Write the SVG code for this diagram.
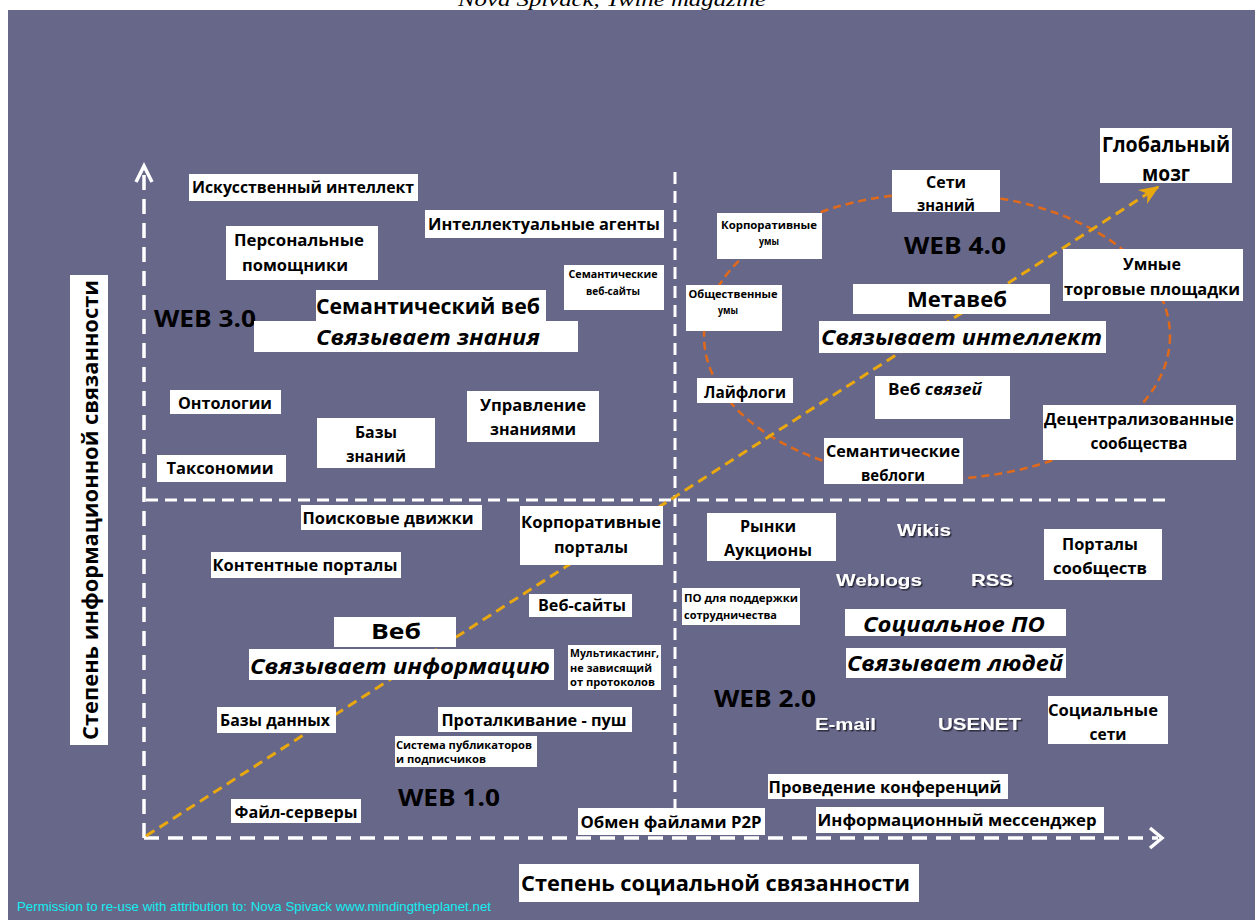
<svg xmlns="http://www.w3.org/2000/svg" width="1255" height="920" viewBox="0 0 1255 920">
<defs>
<style>
.bg{fill:#67678a}
.box{fill:#ffffff}
.t{font-family:"Open Sans","Noto Sans","DejaVu Sans",sans-serif;font-weight:bold;font-size:15.5px;fill:#000}
.s{font-size:10.5px}
.l{font-size:21px}
.h{font-size:23px}
.i{font-style:italic}
.m{text-anchor:middle}
.w{font-family:"Liberation Sans",Arial,sans-serif;font-weight:bold;font-size:17px;fill:#ffffff;filter:url(#sh)}
.axis{fill:none;stroke:#ffffff;stroke-width:3.5;stroke-dasharray:15 9}
.quad{fill:none;stroke:#ffffff;stroke-width:3;stroke-dasharray:12 7}
.head{fill:none;stroke:#ffffff;stroke-width:3.5}
.ell{fill:none;stroke:#e06a1a;stroke-width:2.5;stroke-dasharray:8 5}
.diag{fill:none;stroke:#e9a80f;stroke-width:3;stroke-dasharray:10 6}
</style>
<filter id="sh" x="-10%" y="-20%" width="130%" height="150%">
<feDropShadow dx="1.5" dy="1.5" stdDeviation="0.7" flood-color="#222233" flood-opacity="0.9"/>
</filter>
<marker id="ya" viewBox="0 0 12 10" refX="11" refY="5" markerWidth="20" markerHeight="17" markerUnits="userSpaceOnUse" orient="auto">
<path d="M0,0 L12,5 L0,10 L3.5,5 z" fill="#e9a80f"/>
</marker>
</defs>

<text x="612" y="6" text-anchor="middle" font-family="Liberation Serif,serif" font-style="italic" font-size="18" fill="#000" textLength="308" lengthAdjust="spacingAndGlyphs">Nova Spivack, Twine magazine</text>
<rect class="bg" x="8" y="10" width="1247" height="910"/>

<g id="connectors">
<ellipse class="ell" cx="937" cy="336" rx="233" ry="143"/>
<line class="quad" x1="675" y1="172" x2="675" y2="836"/>
<line class="quad" x1="146" y1="500" x2="1170" y2="500"/>
<line class="axis" x1="144" y1="838" x2="144" y2="168"/>
<polyline class="head" points="136,182 144,166 152,182"/>
<line class="axis" x1="144" y1="838" x2="1158" y2="838"/>
<polyline class="head" points="1150,828 1162,838 1150,848"/>
<line class="diag" x1="146" y1="836" x2="1158" y2="187" marker-end="url(#ya)"/>
</g>

<g id="n-ai"><rect class="box" x="189" y="174" width="229" height="27"/><text class="t m" x="303" y="193" textLength="222" lengthAdjust="spacingAndGlyphs">Искусственный интеллект</text></g>
<g id="n-pa"><rect class="box" x="226" y="226" width="152" height="54"/><text class="t m" x="299" y="246" textLength="130" lengthAdjust="spacingAndGlyphs">Персональные</text><text class="t m" x="295" y="271" textLength="106" lengthAdjust="spacingAndGlyphs">помощники</text></g>
<g id="n-agents"><rect class="box" x="425" y="210" width="239" height="28"/><text class="t m" x="544" y="230" textLength="232" lengthAdjust="spacingAndGlyphs">Интеллектуальные агенты</text></g>
<g id="n-semsites"><rect class="box" x="564" y="265" width="100" height="45"/><text class="t s m" x="613" y="278" textLength="89" lengthAdjust="spacingAndGlyphs">Семантические</text><text class="t s m" x="613" y="295" textLength="54" lengthAdjust="spacingAndGlyphs">веб-сайты</text></g>
<g id="n-web3"><text class="t h" x="154" y="327" textLength="102" lengthAdjust="spacingAndGlyphs">WEB 3.0</text></g>
<g id="n-semweb"><rect class="box" x="316" y="290" width="230" height="31"/><rect class="box" x="254" y="321" width="324" height="31"/><text class="t l" x="316" y="314" textLength="224" lengthAdjust="spacingAndGlyphs">Семантический веб</text><text class="t l i" x="316" y="345" textLength="224" lengthAdjust="spacingAndGlyphs">Связывает знания</text></g>
<g id="n-onto"><rect class="box" x="170" y="390" width="111" height="24"/><text class="t m" x="225" y="409" textLength="94" lengthAdjust="spacingAndGlyphs">Онтологии</text></g>
<g id="n-tax"><rect class="box" x="157" y="455" width="129" height="27"/><text class="t m" x="220" y="474" textLength="107" lengthAdjust="spacingAndGlyphs">Таксономии</text></g>
<g id="n-kb"><rect class="box" x="317" y="418" width="118" height="50"/><text class="t m" x="376" y="438" textLength="42" lengthAdjust="spacingAndGlyphs">Базы</text><text class="t m" x="376" y="462" textLength="60" lengthAdjust="spacingAndGlyphs">знаний</text></g>
<g id="n-km"><rect class="box" x="467" y="391" width="132" height="51"/><text class="t m" x="533" y="411" textLength="106" lengthAdjust="spacingAndGlyphs">Управление</text><text class="t m" x="533" y="435" textLength="86" lengthAdjust="spacingAndGlyphs">знаниями</text></g>

<g id="n-brain"><rect class="box" x="1100" y="128" width="132" height="55"/><text class="t l m" x="1166" y="152" textLength="128" lengthAdjust="spacingAndGlyphs">Глобальный</text><text class="t l m" x="1166" y="181" textLength="48" lengthAdjust="spacingAndGlyphs">мозг</text></g>
<g id="n-knet"><rect class="box" x="892" y="170" width="108" height="42"/><text class="t m" x="946" y="188" textLength="40" lengthAdjust="spacingAndGlyphs">Сети</text><text class="t m" x="946" y="211" textLength="58" lengthAdjust="spacingAndGlyphs">знаний</text></g>
<g id="n-corpminds"><rect class="box" x="717" y="213" width="105" height="46"/><text class="t s m" x="769" y="229" textLength="96" lengthAdjust="spacingAndGlyphs">Корпоративные</text><text class="t s m" x="769" y="245" textLength="20" lengthAdjust="spacingAndGlyphs">умы</text></g>
<g id="n-web4"><text class="t h m" x="955" y="254" textLength="102" lengthAdjust="spacingAndGlyphs">WEB 4.0</text></g>
<g id="n-pubminds"><rect class="box" x="686" y="285" width="96" height="46"/><text class="t s m" x="733" y="298" textLength="89" lengthAdjust="spacingAndGlyphs">Общественные</text><text class="t s m" x="728" y="314" textLength="20" lengthAdjust="spacingAndGlyphs">умы</text></g>
<g id="n-metaweb"><rect class="box" x="853" y="284" width="197" height="30"/><rect class="box" x="819" y="321" width="287" height="32"/><text class="t l m" x="957" y="307" textLength="100" lengthAdjust="spacingAndGlyphs">Метавеб</text><text class="t l i" x="821" y="345" textLength="281" lengthAdjust="spacingAndGlyphs">Связывает интеллект</text></g>
<g id="n-smart"><rect class="box" x="1063" y="249" width="180" height="52"/><text class="t m" x="1152" y="270" textLength="58" lengthAdjust="spacingAndGlyphs">Умные</text><text class="t m" x="1152" y="295" textLength="176" lengthAdjust="spacingAndGlyphs">торговые площадки</text></g>
<g id="n-lifelogs"><rect class="box" x="697" y="378" width="96" height="25"/><text class="t m" x="745" y="398" textLength="82" lengthAdjust="spacingAndGlyphs">Лайфлоги</text></g>
<g id="n-webrel"><rect class="box" x="875" y="376" width="135" height="43"/><text class="t" x="888" y="395" textLength="94" lengthAdjust="spacingAndGlyphs">Веб <tspan class="i">связей</tspan></text></g>
<g id="n-decentr"><rect class="box" x="1043" y="405" width="193" height="55"/><text class="t m" x="1139" y="425" textLength="190" lengthAdjust="spacingAndGlyphs">Децентрализованные</text><text class="t m" x="1139" y="449" textLength="97" lengthAdjust="spacingAndGlyphs">сообщества</text></g>
<g id="n-semblogs"><rect class="box" x="824" y="438" width="139" height="46"/><text class="t m" x="893" y="457" textLength="134" lengthAdjust="spacingAndGlyphs">Семантические</text><text class="t m" x="893" y="481" textLength="64" lengthAdjust="spacingAndGlyphs">веблоги</text></g>

<g id="n-search"><rect class="box" x="301" y="505" width="181" height="25"/><text class="t m" x="388" y="524" textLength="171" lengthAdjust="spacingAndGlyphs">Поисковые движки</text></g>
<g id="n-corpportals"><rect class="box" x="520" y="506" width="143" height="59"/><text class="t m" x="591" y="528" textLength="140" lengthAdjust="spacingAndGlyphs">Корпоративные</text><text class="t m" x="591" y="553" textLength="74" lengthAdjust="spacingAndGlyphs">порталы</text></g>
<g id="n-content"><rect class="box" x="211" y="552" width="190" height="26"/><text class="t m" x="305" y="571" textLength="185" lengthAdjust="spacingAndGlyphs">Контентные порталы</text></g>
<g id="n-websites"><rect class="box" x="529" y="594" width="103" height="23"/><text class="t m" x="582" y="611" textLength="88" lengthAdjust="spacingAndGlyphs">Веб-сайты</text></g>
<g id="n-web"><rect class="box" x="334" y="617" width="122" height="30"/><rect class="box" x="249" y="649" width="305" height="31"/><text class="t l m" x="396" y="639" textLength="50" lengthAdjust="spacingAndGlyphs">Веб</text><text class="t l i" x="250" y="674" textLength="300" lengthAdjust="spacingAndGlyphs">Связывает информацию</text></g>
<g id="n-multicast"><rect class="box" x="568" y="645" width="93" height="45"/><text class="t s" x="570" y="657" textLength="89" lengthAdjust="spacingAndGlyphs">Мультикастинг,</text><text class="t s" x="570" y="672" textLength="82" lengthAdjust="spacingAndGlyphs">не зависящий</text><text class="t s" x="570" y="686" textLength="85" lengthAdjust="spacingAndGlyphs">от протоколов</text></g>
<g id="n-db"><rect class="box" x="217" y="707" width="119" height="26"/><text class="t m" x="275" y="726" textLength="110" lengthAdjust="spacingAndGlyphs">Базы данных</text></g>
<g id="n-push"><rect class="box" x="438" y="707" width="194" height="25"/><text class="t m" x="534" y="726" textLength="185" lengthAdjust="spacingAndGlyphs">Проталкивание - пуш</text></g>
<g id="n-pubsub"><rect class="box" x="395" y="736" width="142" height="31"/><text class="t s" x="396" y="749" textLength="136" lengthAdjust="spacingAndGlyphs">Система публикаторов</text><text class="t s" x="396" y="763" textLength="90" lengthAdjust="spacingAndGlyphs">и подписчиков</text></g>
<g id="n-web1"><text class="t h" x="398" y="806" textLength="102" lengthAdjust="spacingAndGlyphs">WEB 1.0</text></g>
<g id="n-files"><rect class="box" x="231" y="799" width="130" height="24"/><text class="t m" x="296" y="818" textLength="123" lengthAdjust="spacingAndGlyphs">Файл-серверы</text></g>
<g id="n-p2p"><rect class="box" x="578" y="808" width="187" height="27"/><text class="t m" x="671" y="828" textLength="181" lengthAdjust="spacingAndGlyphs">Обмен файлами P2P</text></g>

<g id="n-markets"><rect class="box" x="707" y="513" width="129" height="48"/><text class="t m" x="768" y="532" textLength="56" lengthAdjust="spacingAndGlyphs">Рынки</text><text class="t m" x="768" y="556" textLength="88" lengthAdjust="spacingAndGlyphs">Аукционы</text></g>
<g id="n-wikis"><text class="w" x="897" y="536" textLength="54" lengthAdjust="spacingAndGlyphs">Wikis</text></g>
<g id="n-commportals"><rect class="box" x="1044" y="529" width="118" height="51"/><text class="t m" x="1100" y="550" textLength="76" lengthAdjust="spacingAndGlyphs">Порталы</text><text class="t m" x="1100" y="574" textLength="94" lengthAdjust="spacingAndGlyphs">сообществ</text></g>
<g id="n-weblogs"><text class="w" x="836" y="586" textLength="86" lengthAdjust="spacingAndGlyphs">Weblogs</text></g>
<g id="n-rss"><text class="w" x="971" y="586" textLength="42" lengthAdjust="spacingAndGlyphs">RSS</text></g>
<g id="n-collab"><rect class="box" x="682" y="588" width="118" height="37"/><text class="t s" x="684" y="602" textLength="114" lengthAdjust="spacingAndGlyphs">ПО для поддержки</text><text class="t s" x="684" y="619" textLength="93" lengthAdjust="spacingAndGlyphs">сотрудничества</text></g>
<g id="n-social"><rect class="box" x="845" y="609" width="221" height="27"/><rect class="box" x="846" y="648" width="220" height="30"/><text class="t l i m" x="954" y="632" textLength="182" lengthAdjust="spacingAndGlyphs">Социальное ПО</text><text class="t l i" x="847" y="671" textLength="216" lengthAdjust="spacingAndGlyphs">Связывает людей</text></g>
<g id="n-web2"><text class="t h" x="714" y="707" textLength="102" lengthAdjust="spacingAndGlyphs">WEB 2.0</text></g>
<g id="n-email"><text class="w" x="815" y="730" textLength="61" lengthAdjust="spacingAndGlyphs">E-mail</text></g>
<g id="n-usenet"><text class="w" x="938" y="730" textLength="83" lengthAdjust="spacingAndGlyphs">USENET</text></g>
<g id="n-socnets"><rect class="box" x="1048" y="696" width="120" height="48"/><text class="t m" x="1103" y="716" textLength="110" lengthAdjust="spacingAndGlyphs">Социальные</text><text class="t m" x="1108" y="740" textLength="37" lengthAdjust="spacingAndGlyphs">сети</text></g>
<g id="n-conf"><rect class="box" x="768" y="774" width="240" height="25"/><text class="t m" x="885" y="793" textLength="233" lengthAdjust="spacingAndGlyphs">Проведение конференций</text></g>
<g id="n-im"><rect class="box" x="816" y="807" width="288" height="26"/><text class="t m" x="957" y="826" textLength="279" lengthAdjust="spacingAndGlyphs">Информационный мессенджер</text></g>

<g id="x-label"><rect class="box" x="519" y="864" width="400" height="38"/><text class="t l" x="521" y="891" textLength="389" lengthAdjust="spacingAndGlyphs">Степень социальной связанности</text></g>
<g id="y-label"><rect class="box" x="70" y="275" width="38" height="470"/><text class="t l m" transform="translate(98,510) rotate(-90)" x="0" y="0" textLength="460" lengthAdjust="spacingAndGlyphs">Степень информационной связанности</text></g>
<g id="credit"><text x="17" y="911" font-family="Liberation Sans,Arial,sans-serif" font-size="13" fill="#12eef0" textLength="474" lengthAdjust="spacingAndGlyphs">Permission to re-use with attribution to: Nova Spivack www.mindingtheplanet.net</text></g>
</svg>
